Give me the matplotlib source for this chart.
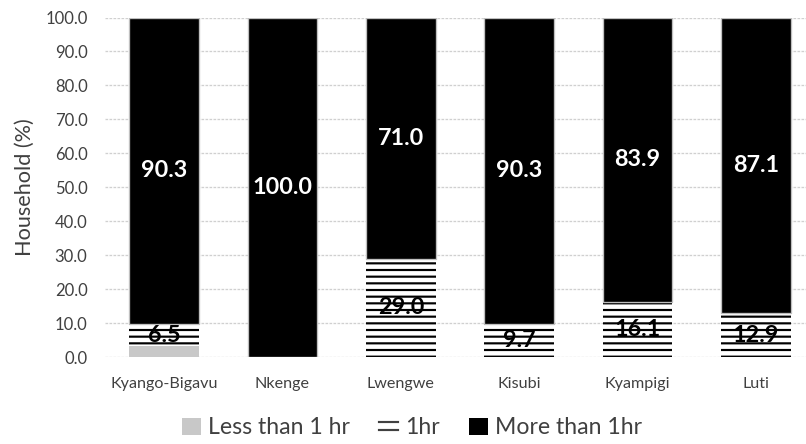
import matplotlib
matplotlib.use("Agg")
import matplotlib.pyplot as plt
import numpy as np
from matplotlib.patches import Patch, Rectangle
from matplotlib.lines import Line2D
from matplotlib.legend_handler import HandlerBase

plt.rcParams['font.family'] = ['Lato', 'DejaVu Sans']
plt.rcParams['hatch.linewidth'] = 1.3

sites = ["Kyango-Bigavu", "Nkenge", "Lwengwe", "Kisubi", "Kyampigi", "Luti"]
less_than_1hr = [3.2, 0.0, 0.0, 0.0, 0.0, 0.0]
equal_1hr = [6.5, 0.0, 29.0, 9.7, 16.1, 12.9]
more_than_1hr = [90.3, 100.0, 71.0, 90.3, 83.9, 87.1]
series_names = ["Less than 1 hr", "1hr", "More than 1hr"]
y_ticks = [0, 10, 20, 30, 40, 50, 60, 70, 80, 90, 100]

DPI = 120
W, H = 806, 444
fig = plt.figure(figsize=(W / DPI, H / DPI), dpi=DPI)

# plot area in pixel coordinates (right side runs past the canvas edge)
left, right, bottom, top = 105, 815, 357, 17.5
ax = fig.add_axes([left / W, 1 - bottom / H, (right - left) / W, (bottom - top) / H])

x = np.arange(len(sites))
bw = 0.59
lt = np.array(less_than_1hr)
eq = np.array(equal_1hr)
mt = np.array(more_than_1hr)

ax.bar(x, lt, bw, color="#c8c8c8", linewidth=0, zorder=2)
ax.bar(x, eq, bw, bottom=lt, color="white", edgecolor="black", hatch="---",
       linewidth=0, zorder=2)
ax.bar(x, mt, bw, bottom=lt + eq, color="black", edgecolor="#bfbfbf",
       linewidth=0.8, zorder=2)

for i in range(len(sites)):
    if eq[i] > 0:
        ax.text(x[i], lt[i] + eq[i] / 2, f"{eq[i]:.1f}", ha="center", va="center",
                fontsize=14, fontweight="bold", color="black", zorder=3)
    ax.text(x[i], lt[i] + eq[i] + mt[i] / 2, f"{mt[i]:.1f}", ha="center", va="center",
            fontsize=14, fontweight="bold", color="white", zorder=3)

ax.set_xlim(-0.5, len(sites) - 0.5)
ax.set_ylim(0, 100)
ax.set_yticks(y_ticks)
ax.set_yticklabels([f"{v:.1f}" for v in y_ticks], fontsize=10, color="#404040")
ax.set_xticks(x)
ax.set_xticklabels(sites, fontsize=9.7, color="#404040")
ax.tick_params(axis="x", length=0, pad=12)
ax.tick_params(axis="y", length=0, pad=10.5)
ax.yaxis.grid(True, color="#d0d0d0", linestyle=(0, (2, 1)), linewidth=0.8, zorder=0)
ax.set_axisbelow(True)
for s in ax.spines.values():
    s.set_visible(False)
ax.set_ylabel("Household (%)", fontsize=13, color="#404040", labelpad=6)


class TwoLineHandler(HandlerBase):
    """Legend swatch for the hatched series: two horizontal strokes."""
    def create_artists(self, legend, orig_handle, xdescent, ydescent,
                       width, height, fontsize, trans):
        arts = []
        for frac in (0.3, 0.75):
            y = -ydescent + height * frac
            arts.append(Line2D([-xdescent, -xdescent + width], [y, y],
                               color="#404040", linewidth=1.3, transform=trans))
        return arts


h_eq = Rectangle((0, 0), 1, 1)
handles = [
    Patch(facecolor="#c8c8c8", edgecolor="none"),
    h_eq,
    Patch(facecolor="black", edgecolor="none"),
]
fig.legend(handles=handles, labels=series_names, loc="center",
           bbox_to_anchor=(412 / W, 1 - 428 / H),
           handler_map={h_eq: TwoLineHandler()},
           ncol=3, frameon=False, fontsize=13.8, handlelength=0.8, handleheight=0.75,
           handletextpad=0.3, columnspacing=1.3, labelcolor="#404040")

fig.savefig("out.png", dpi=DPI)
